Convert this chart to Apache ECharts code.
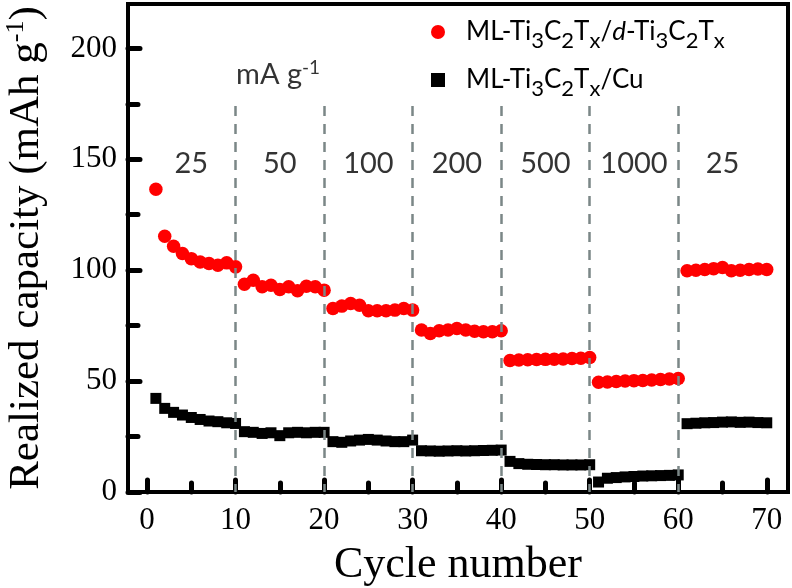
<!DOCTYPE html>
<html>
<head>
<meta charset="utf-8">
<script src="https://cdn.jsdelivr.net/npm/echarts@6/dist/echarts.min.js"></script>
<style>html,body{margin:0;padding:0;background:#fff}#c{width:792px;height:588px}</style>
</head>
<body>
<div id="c"></div>
<script>
var cycles = [];
for (var i = 1; i <= 70; i++) cycles.push(i);
var redValues = [136.5, 115.3, 110.8, 107.5, 105.2, 103.7, 103, 102.2, 103.3, 101.5,
  93.7, 95.5, 92.5, 93.2, 91.3, 92.5, 90.7, 92.8, 92.5, 91,
  82.7, 83.8, 85, 84.2, 81.7, 81.7, 81.7, 82, 82.7, 82,
  73, 71.5, 72.7, 73, 73.7, 73, 72.5, 72.2, 72.2, 72.7,
  59.3, 59.5, 59.6, 59.7, 59.8, 59.9, 60, 60.2, 60.3, 60.6,
  49.5, 49.6, 49.8, 50, 50.2, 50.3, 50.5, 50.7, 50.9, 51.2,
  99.7, 100, 100.3, 100.7, 101.2, 99.7, 100, 100.3, 100.5, 100.3];
var blackValues = [42.2, 37.7, 35.9, 34.7, 33.6, 32.7, 32, 31.7, 31.2, 30.9,
  27.2, 26.9, 26.4, 26.7, 25.4, 26.7, 26.9, 26.7, 26.9, 26.9,
  22.7, 22.4, 23, 23.4, 23.7, 23.4, 23, 22.7, 22.7, 23.4,
  18.6, 18.5, 18.4, 18.5, 18.6, 18.5, 18.6, 18.7, 18.8, 18.9,
  13.8, 12.8, 12.5, 12.4, 12.3, 12.3, 12.2, 12.2, 12.2, 12.3,
  4.5, 6.2, 6.5, 6.8, 7, 7.2, 7.3, 7.4, 7.5, 7.7,
  30.8, 31, 31.2, 31.3, 31.5, 31.6, 31.4, 31.5, 31.3, 31.2];
var seriesNames = ['ML-Ti3C2Tx/d-Ti3C2Tx', 'ML-Ti3C2Tx/Cu'];
var seriesRich = ['ML-Ti{s|3}C{s|2}T{s|x}/{i|d}-Ti{s|3}C{s|2}T{s|x}', 'ML-Ti{s|3}C{s|2}T{s|x}/Cu'];
var boundaries = [10, 20, 30, 40, 50, 60];
var rateLabels = ['25', '50', '100', '200', '500', '1000', '25'];
var ratePositions = [5, 15, 25, 35, 45, 55, 65];
var rateLabelY = 148;
var unitLabel = 'mA g{sup|-1}';
var unitPos = [14.8, 188];
var xTicks = [0, 10, 20, 30, 40, 50, 60, 70];
var xMinorTicks = [5, 15, 25, 35, 45, 55, 65];
var yTicks = [0, 50, 100, 150, 200];
var yMinorTicks = [25, 75, 125, 175];
var dashTop = 174;

function pairs(vals) { return vals.map(function (v, i) { return [cycles[i], v]; }); }

var serif = 'Liberation Serif';
var sans = 'Lato';
var chart = echarts.init(document.getElementById('c'), null, {renderer: 'canvas'});
function tickAxis(kind, ticks, len) {
  return {
    type: 'value', min: kind === 'x' ? -2.15 : 0, max: kind === 'x' ? 72.4 : 220,
    position: kind === 'x' ? 'bottom' : 'left',
    axisLine: {show: false, onZero: false},
    axisTick: {show: true, inside: true, length: len, customValues: ticks, lineStyle: {color: '#000', width: 5, cap: 'round'}},
    axisLabel: {show: false}, splitLine: {show: false}
  };
}
var xMain = {
  type: 'value', min: -2.15, max: 72.4, position: 'bottom',
  name: 'Cycle number', nameLocation: 'middle', nameGap: 51,
  nameTextStyle: {fontFamily: serif, fontSize: 44, color: '#000'},
  axisLine: {show: true, onZero: false, lineStyle: {color: '#000', width: 4}},
  axisTick: {show: false},
  axisLabel: {show: true, customValues: xTicks, margin: 13, fontFamily: serif, fontSize: 31, color: '#000'},
  splitLine: {show: false}
};
var yMain = {
  type: 'value', min: 0, max: 220, position: 'left',
  name: 'Realized capacity (mAh g{sup|-1})', nameLocation: 'middle', nameGap: 77,
  nameTextStyle: {fontFamily: serif, fontSize: 43, color: '#000',
    rich: {sup: {fontFamily: serif, fontSize: 26, color: '#000', padding: [0, 0, 22, 0]}}},
  axisLine: {show: true, onZero: false, lineStyle: {color: '#000', width: 4}},
  axisTick: {show: false},
  axisLabel: {show: true, customValues: yTicks, margin: 11, fontFamily: serif, fontSize: 31, color: '#000'},
  splitLine: {show: false}
};
var hidden = {color: 'rgba(0,0,0,0)'};
chart.setOption({
  animation: false,
  grid: {left: 128, right: 4, top: 4, bottom: 96, show: true, borderColor: '#000', borderWidth: 4,
    containLabel: false, outerBoundsMode: 'none'},
  legend: {
    orient: 'vertical', left: 426, top: 14, itemWidth: 14, itemHeight: 14, itemGap: 15,
    data: seriesNames,
    formatter: function (n) { return seriesRich[seriesNames.indexOf(n)]; },
    textStyle: {
      fontFamily: sans, fontSize: 26, color: '#000', padding: [0, 0, 0, 16],
      rich: {
        s: {fontFamily: sans, fontSize: 22, color: '#000', padding: [18, 0, 0, 0]},
        i: {fontFamily: sans, fontSize: 26, color: '#000', fontStyle: 'italic'}
      }
    }
  },
  xAxis: [xMain, tickAxis('x', xTicks, 12), tickAxis('x', xMinorTicks, 9)],
  yAxis: [yMain, tickAxis('y', yTicks, 12), tickAxis('y', yMinorTicks, 10)],
  series: [{
    name: seriesNames[1], type: 'scatter', symbol: 'rect', symbolSize: 11,
    itemStyle: {color: '#000', opacity: 1},
    data: pairs(blackValues), z: 3
  }, {
    name: seriesNames[0], type: 'scatter', symbol: 'circle', symbolSize: 13.5,
    itemStyle: {color: '#ff0000', opacity: 1},
    data: pairs(redValues), z: 4,
    markLine: {
      silent: true, symbol: 'none', label: {show: false},
      lineStyle: {color: '#7b8787', width: 2.5, type: [10, 8]},
      data: boundaries.map(function (b) { return [{coord: [b, dashTop]}, {coord: [b, 0]}]; })
    }
  }, {
    name: 'rates', type: 'scatter', symbol: 'circle', symbolSize: 1, silent: true,
    itemStyle: hidden,
    data: rateLabels.map(function (t, i) { return {name: t, value: [ratePositions[i], rateLabelY]}; }),
    label: {show: true, position: 'inside', formatter: '{b}', fontFamily: sans, fontSize: 29, color: '#000'}
  }, {
    name: 'unit', type: 'scatter', symbol: 'circle', symbolSize: 1, silent: true,
    itemStyle: hidden,
    data: [{name: 'unit', value: unitPos}],
    label: {show: true, position: 'inside', formatter: unitLabel, fontFamily: sans, fontSize: 29, color: '#000',
      rich: {sup: {fontFamily: sans, fontSize: 19, color: '#000', padding: [0, 0, 14, 0]}}}
  }]
});
</script>
</body>
</html>
